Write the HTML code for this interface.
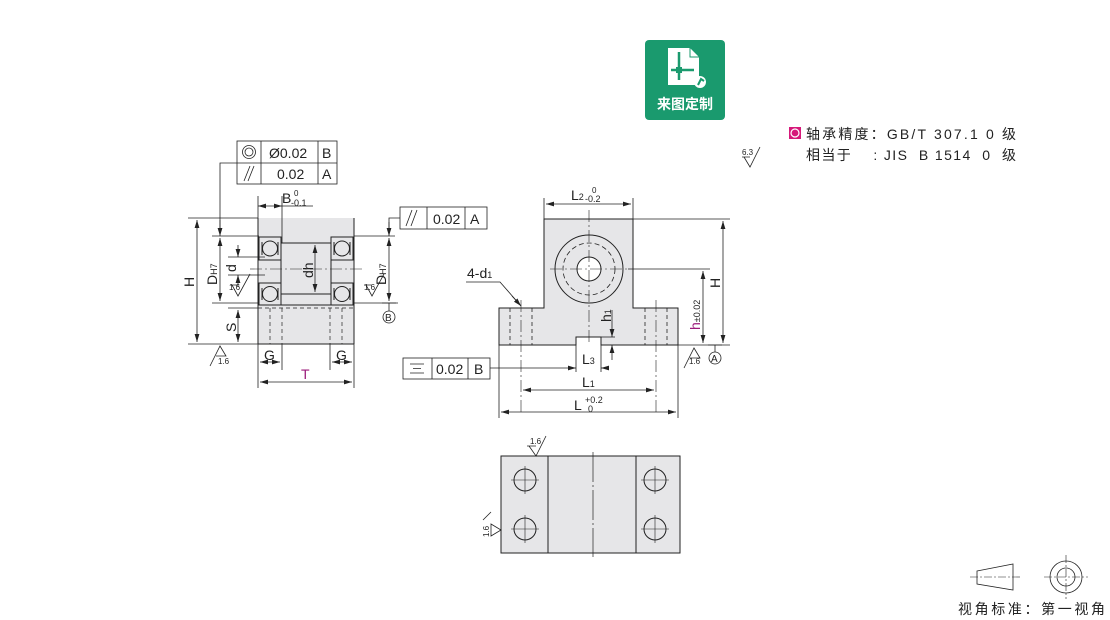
<!DOCTYPE html>
<html><head><meta charset="utf-8"><style>
html,body{margin:0;padding:0;background:#fff;}
svg{display:block;font-family:"Liberation Sans","Noto Sans CJK SC",sans-serif;}
</style></head><body>
<svg width="1110" height="620" viewBox="0 0 1110 620" xmlns="http://www.w3.org/2000/svg">
<defs>
<marker id="a" viewBox="0 0 10 6" refX="10" refY="3" markerWidth="8" markerHeight="5" orient="auto-start-reverse" markerUnits="userSpaceOnUse"><path d="M0,0 L10,3 L0,6 z" fill="#222"/></marker>
</defs>
<g stroke="#222" stroke-width="0.8" fill="none">
<!-- LEFT VIEW -->
<rect x="258" y="218" width="96" height="126" fill="#e6e6e8" stroke="none"/>
<path d="M258 218 V344 M354 218 V344 M258 344 H354" stroke-width="1"/>
<rect x="281" y="243" width="50" height="51" stroke-width="1"/>
<g stroke-width="1">
<rect x="259" y="237" width="22" height="23" fill="#e6e6e8"/>
<rect x="331" y="237" width="22" height="23" fill="#e6e6e8"/>
<rect x="259" y="283" width="22" height="22" fill="#e6e6e8"/>
<rect x="331" y="283" width="22" height="22" fill="#e6e6e8"/>
<circle cx="270" cy="248.5" r="7.5"/><circle cx="342" cy="248.5" r="7.5"/>
<circle cx="270" cy="294" r="7.5"/><circle cx="342" cy="294" r="7.5"/>
<path d="M262 242 v13 M278 242 v13 M334 242 v13 M350 242 v13 M262 288 v12 M278 288 v12 M334 288 v12 M350 288 v12"/>
</g>
<path d="M258 305 H354" stroke-width="1"/>
<path d="M258 308 H354 M270 308 V344 M282 308 V344 M330 308 V344 M342 308 V344" stroke-dasharray="4,3" stroke-width="0.7"/>
<path d="M250 269 H362" stroke-dasharray="12,3,2,3" stroke-width="0.6"/>
<!-- left dims -->
<path d="M188 218 H258 M188 344 H258 M212 236 H259 M212 303 H258 M228 257 H265 M228 275 H265 M228 308 H258"/>
<path d="M197 220 V342" marker-start="url(#a)" marker-end="url(#a)"/>
<path d="M220 238 V301" marker-start="url(#a)" marker-end="url(#a)"/>
<path d="M238 245 V257" marker-end="url(#a)"/><path d="M238 287 V275" marker-end="url(#a)"/>
<path d="M238 310 V342" marker-start="url(#a)" marker-end="url(#a)"/>
<path d="M315 245 V292" marker-start="url(#a)" marker-end="url(#a)"/>
<path d="M354 236 H395 M354 303 H398"/>
<path d="M389 238 V301" marker-start="url(#a)" marker-end="url(#a)"/>
<path d="M258 196 V218 M282 196 V243"/>
<path d="M258 206 H282" marker-start="url(#a)" marker-end="url(#a)"/>
<path d="M282 206 H313"/>
<path d="M258 344 V388 M354 344 V388 M282 344 V370 M330 344 V370"/>
<path d="M260 362 H280" marker-start="url(#a)" marker-end="url(#a)"/>
<path d="M332 362 H352" marker-start="url(#a)" marker-end="url(#a)"/>
<path d="M260 382 H352" marker-start="url(#a)" marker-end="url(#a)"/>
<!-- FCF top-left -->
<rect x="237" y="141" width="100" height="43" fill="#fff"/>
<path d="M237 163 H337 M261 141 V184 M318 141 V184"/>
<circle cx="249" cy="152" r="6.5"/><circle cx="249" cy="152" r="4"/>
<path d="M244 181 L250 166 M248 181 L254 166"/>
<path d="M237 163 H220 V234"/><path d="M220 220 V236" marker-end="url(#a)"/>
<!-- FCF right -->
<rect x="400" y="207" width="87" height="22" fill="#fff"/>
<path d="M427 207 V229 M465 207 V229 M406 226 L412 210 M411 226 L417 210"/>
<path d="M400 218 H389 V234"/><path d="M389 222 V236" marker-end="url(#a)"/>
<!-- B datum -->
<path d="M382 303 H396 M389 303 V311"/><circle cx="389" cy="317" r="6"/>
<!-- roughness symbols -->
<path d="M232 285 L238 296 L250 274 M230 285 H238"/>
<path d="M366 285 L372 296 L384 274 M364 285 H372"/>
<path d="M210 366 L220 346 L226 356 L216 356"/>
<!-- MIDDLE FRONT VIEW -->
<path d="M544 219 H633 V308 H678 V345 H601 V337 H576 V345 H499 V308 H544 Z" fill="#e6e6e8" stroke-width="1"/>
<circle cx="589" cy="269" r="34" stroke-width="1"/>
<circle cx="589" cy="269" r="26" stroke-dasharray="5,3"/>
<circle cx="589" cy="269" r="12" fill="#fff" stroke-width="1"/>
<path d="M589 210 V345 M550 269 H628" stroke-dasharray="12,3,2,3" stroke-width="0.6"/>
<path d="M510 308 V345 M532 308 V345 M645 308 V345 M667 308 V345" stroke-dasharray="4,3"/>
<path d="M521 300 V415 M656 300 V415" stroke-dasharray="12,3,2,3" stroke-width="0.6"/>
<path d="M544 198 V219 M633 198 V219"/>
<path d="M546 204 H631" marker-start="url(#a)" marker-end="url(#a)"/>
<path d="M633 219 H730 M628 269 H710 M678 345 H730"/>
<path d="M723 221 V343" marker-start="url(#a)" marker-end="url(#a)"/>
<path d="M703 271 V343" marker-start="url(#a)" marker-end="url(#a)"/>
<path d="M601 337 H615"/><path d="M612 310 V337" marker-end="url(#a)"/><path d="M612 360 V345" marker-end="url(#a)"/>
<path d="M576 345 V372 M601 345 V372"/>
<path d="M490 368 H576" marker-end="url(#a)"/><path d="M608 368 H601" marker-end="url(#a)"/>
<path d="M523 390 H654" marker-start="url(#a)" marker-end="url(#a)"/>
<path d="M499 345 V418 M678 345 V418"/>
<path d="M501 412 H676" marker-start="url(#a)" marker-end="url(#a)"/>
<path d="M466 282 H500 L521 306" /><path d="M512 296 L521 306" marker-end="url(#a)"/>
<!-- FCF bottom -->
<rect x="403" y="358" width="87" height="21" fill="#fff"/>
<path d="M432 358 V379 M468 358 V379 M410 364 H424 M413 368.5 H421 M410 373 H424"/>
<!-- A datum -->
<path d="M708 345 H722 M715 345 V352"/><circle cx="715" cy="358" r="6"/>
<path d="M684 368 L694 348 L700 358 L690 358"/>
<!-- BOTTOM VIEW -->
<rect x="501" y="456" width="179" height="97" fill="#e6e6e8" stroke-width="1"/>
<path d="M548 456 V553 M636 456 V553" stroke-width="1"/>
<path d="M593 452 V557" stroke-dasharray="30,3,2,3" stroke-width="0.7"/>
<g stroke-width="1">
<circle cx="525" cy="480" r="11"/><circle cx="525" cy="529" r="11"/>
<circle cx="655" cy="480" r="11"/><circle cx="655" cy="529" r="11"/>
</g>
<path d="M511 480 H539 M525 466 V494 M511 529 H539 M525 515 V543 M641 480 H669 M655 466 V494 M641 529 H669 M655 515 V543" stroke-width="0.6"/>
<path d="M529 446 L536 456 L546 436 M527 446 H536"/>
<path d="M491 524 L501 530 L491 536 Z M483 520 L491 512"/>
<!-- 6.3 symbol -->
<path d="M744 157 L750 167 L760 147 M742 157 H750"/>
<!-- view symbols -->
<path d="M977 571 L1013 564 V590 L977 584 Z"/>
<path d="M970 577 H1020" stroke-dasharray="8,2,2,2" stroke-width="0.6"/>
<circle cx="1066" cy="577" r="16"/><circle cx="1066" cy="577" r="9"/>
<path d="M1044 577 H1088 M1066 555 V599" stroke-dasharray="8,2,2,2" stroke-width="0.6"/>
</g>
<g fill="#222" font-size="14">
<text x="282" y="203">B</text><text x="294" y="196" font-size="8">0</text><text x="291" y="206" font-size="9">-0.1</text>
<text x="194" y="287" transform="rotate(-90 194 287)">H</text>
<text x="217" y="285" transform="rotate(-90 217 285)">D<tspan font-size="9">H7</tspan></text>
<text x="236" y="272" transform="rotate(-90 236 272)">d</text>
<text x="313" y="278" transform="rotate(-90 313 278)">dh</text>
<text x="386" y="285" transform="rotate(-90 386 285)">D<tspan font-size="9">H7</tspan></text>
<text x="236" y="332" transform="rotate(-90 236 332)">S</text>
<text x="264" y="360">G</text><text x="336" y="360">G</text>
<text x="301" y="379" fill="#9b1a7a">T</text>
<text x="269" y="158">Ø0.02</text><text x="322" y="158">B</text>
<text x="277" y="179">0.02</text><text x="322" y="179">A</text>
<text x="433" y="224">0.02</text><text x="470" y="224">A</text>
<text x="436" y="374">0.02</text><text x="474" y="374">B</text>
<text x="571" y="200">L<tspan font-size="9">2</tspan></text><text x="592" y="193" font-size="8">0</text><text x="585" y="202" font-size="9">-0.2</text>
<text x="467" y="278">4-d<tspan font-size="9">1</tspan></text>
<text x="720" y="288" transform="rotate(-90 720 288)">H</text>
<text x="700" y="330" transform="rotate(-90 700 330)" fill="#9b1a7a">h<tspan font-size="9" fill="#222">±0.02</tspan></text>
<text x="611" y="322" transform="rotate(-90 611 322)">h<tspan font-size="9">1</tspan></text>
<text x="582" y="364">L<tspan font-size="9">3</tspan></text>
<text x="582" y="387">L<tspan font-size="9">1</tspan></text>
<text x="574" y="410">L</text><text x="585" y="403" font-size="9">+0.2</text><text x="588" y="412" font-size="9">0</text>
</g>
<g fill="#222" font-size="8">
<text x="229" y="290">1.6</text><text x="364" y="290">1.6</text><text x="218" y="364">1.6</text>
<text x="689" y="364">1.6</text><text x="530" y="444">1.6</text><text x="742" y="155">6.3</text>
<text x="489" y="537" transform="rotate(-90 489 537)">1.6</text>
<text x="385" y="321" font-size="10">B</text><text x="711" y="362" font-size="10">A</text>
</g>
<!-- logo -->
<rect x="645" y="40" width="80" height="80" rx="4" fill="#1a9a6e"/>
<path d="M668 48 H690 L699 57 V85 H668 Z" fill="#fff"/>
<path d="M690 48 V57 H699" fill="none" stroke="#1a9a6e" stroke-width="1"/>
<path d="M679 52 V80 M671 70 H694" stroke="#1a9a6e" stroke-width="2.5"/>
<rect x="676" y="67" width="6" height="6" fill="#1a9a6e"/>
<circle cx="700" cy="82" r="6" fill="#fff"/><path d="M698 85 L701 79 L704 81" stroke="#1a9a6e" stroke-width="2" fill="none"/>
<text x="685" y="109" font-size="14" font-weight="bold" fill="#fff" text-anchor="middle">来图定制</text>
<!-- bearing precision -->
<rect x="789" y="127" width="12" height="12" fill="#d6197a"/><circle cx="795" cy="133" r="4" fill="none" stroke="#fff" stroke-width="1.2"/>
<text x="806" y="139" font-size="14" fill="#222" textLength="210" lengthAdjust="spacing">轴承精度：GB/T 307.1  0  级</text>
<text x="806" y="160" font-size="14" fill="#222" textLength="210" lengthAdjust="spacing" xml:space="preserve">相当于    : JIS  B 1514  0  级</text>
<text x="958" y="614" font-size="14" fill="#222" textLength="147" lengthAdjust="spacing">视角标准：第一视角</text>
</svg>
</body></html>
